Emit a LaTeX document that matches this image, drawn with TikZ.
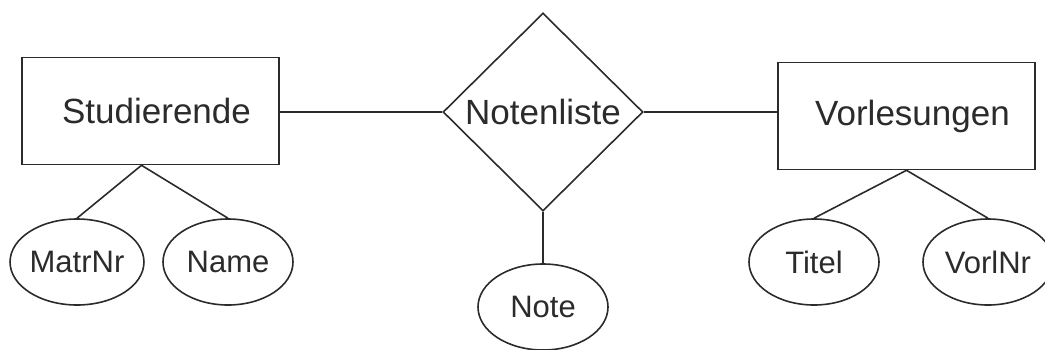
\documentclass[tikz,border=0pt]{standalone}
\usepackage{fontspec}
\setmainfont{Liberation Sans}
\usepackage{xcolor}
\usetikzlibrary{shapes.geometric}
\definecolor{erline}{gray}{0.17}
\tikzset{
	entity/.style={draw=erline,line width=1.6pt,text=erline,rectangle,inner sep=0pt,
		minimum width=257pt,minimum height=107pt,font=\fontsize{35}{42}\selectfont},
	relation/.style={draw=erline,line width=1.6pt,text=erline,diamond,inner sep=0pt,
		minimum width=200pt,minimum height=198pt,font=\fontsize{35}{42}\selectfont},
	attribute/.style={draw=erline,line width=1.6pt,text=erline,ellipse,inner sep=0pt,
		minimum width=130pt,minimum height=86pt,font=\fontsize{31}{37}\selectfont}
}

\begin{document}
\begin{tikzpicture}[x=1pt,y=-1pt]
	\useasboundingbox (0,0) rectangle (1045,349);
	\node[entity] (S) at (150.5,111) {\hspace{12pt}Studierende};
	\node[relation] (R) at (543,112) {Notenliste};
	\node[entity] (V) at (906.5,116) {\hspace{12pt}Vorlesungen};
	\node[attribute] (M) at (77,262) {MatrNr};
	\node[attribute] (Na) at (228,262) {Name};
	\node[attribute] (No) at (543,307) {Note};
	\node[attribute] (T) at (814,262) {Titel};
	\node[attribute] (VN) at (988,262) {VorlNr};
	\coordinate (Sf) at ([xshift=-9pt]S.south);
	\draw[erline,line width=1.6pt] (R.west) -- (R.west -| S.east);
	\draw[erline,line width=1.6pt] (R.east) -- (R.east -| V.west);
	\draw[erline,line width=1.6pt] (R.south) -- (No.north);
	\draw[erline,line width=1.6pt] (M.north) -- (Sf) -- (Na.north);
	\draw[erline,line width=1.6pt] (T.north) -- (V.south) -- (VN.north);
\end{tikzpicture}
\end{document}
